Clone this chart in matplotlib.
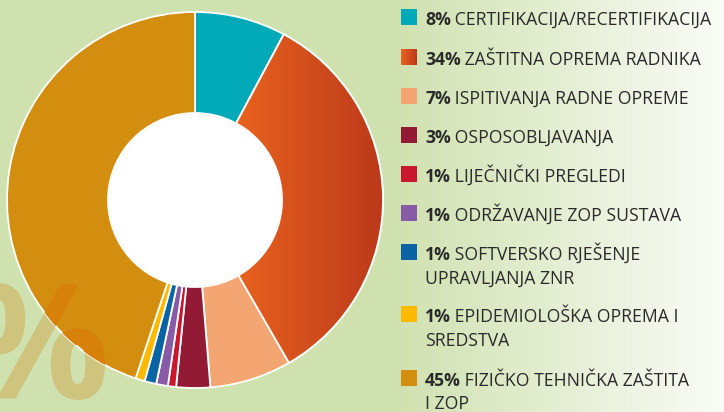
import numpy as np
import matplotlib
matplotlib.use("Agg")
import matplotlib.pyplot as plt
from matplotlib.patches import Wedge, Circle, Rectangle, PathPatch
from matplotlib.textpath import TextPath
from matplotlib.font_manager import FontProperties
from matplotlib.transforms import Affine2D
import matplotlib.colors as mcolors

# ---- data ----
percent_labels = ["8%", "34%", "7%", "3%", "1%", "1%", "1%", "1%", "45%"]
categories = [
    "CERTIFIKACIJA/RECERTIFIKACIJA",
    "ZAŠTITNA OPREMA RADNIKA",
    "ISPITIVANJA RADNE OPREME",
    "OSPOSOBLJAVANJA",
    "LIJEČNIČKI PREGLEDI",
    "ODRŽAVANJE ZOP SUSTAVA",
    "SOFTVERSKO RJEŠENJE\nUPRAVLJANJA ZNR",
    "EPIDEMIOLOŠKA OPREMA I\nSREDSTVA",
    "FIZIČKO TEHNIČKA ZAŠTITA\nI ZOP",
]
# slice shares
shares = [7.8, 33.7, 7.0, 2.9, 0.7, 1.0, 1.0, 0.8, 44.7]
colors = ["#02A9B8", "#D24A1C", "#F4A672", "#931A35", "#C8172E",
          "#875BA6", "#0A64A3", "#FBB900", "#D38E10"]
grad_cols = ("#EA631F", "#BB391A")

W, H = 724, 412
fig = plt.figure(figsize=(W / 100, H / 100), dpi=100)

# background axes in pixel coordinates
bg = fig.add_axes([0, 0, 1, 1], zorder=0)
bg.set_xlim(0, W)
bg.set_ylim(H, 0)
bg.axis("off")
green = np.array(mcolors.to_rgb("#D0E1B0"))
white = np.array(mcolors.to_rgb("#FAFCF7"))
xs = np.arange(W)
t = np.clip((xs - 395) / (W - 395), 0, 1)
row = green[None, :] * (1 - t[:, None]) + white[None, :] * t[:, None]
img = np.repeat(row[None, :, :], 2, axis=0)
bg.imshow(img, extent=[0, W, H, 0], aspect="auto", zorder=0)

# % watermark as a path, placed in pixel coordinates
tp = TextPath((0, 0), "%", size=100, prop=FontProperties(family="Open Sans", weight="bold"))
ext = tp.get_extents()
pct_h = 117.0
s = pct_h / ext.height
x_right, y_bottom = 105.0, 400.0
pct_tr = (Affine2D().translate(-ext.x1, -ext.y0).scale(s, -s)
          .translate(x_right, y_bottom))
bg.add_patch(PathPatch(tp, transform=pct_tr + bg.transData,
                       facecolor="#CFC47E", edgecolor="none", zorder=1))

# pie axes
cx, cy, R = 195, 200, 188
lim = 1.01
size = 2 * lim * R
ax = fig.add_axes([(cx - size / 2) / W, (H - cy - size / 2) / H, size / W, size / H],
                  zorder=1)
ax.set_xlim(-lim, lim)
ax.set_ylim(-lim, lim)
ax.set_aspect("equal")
ax.axis("off")
ax.patch.set_alpha(0)

inner = 87 / 188
wedges, _ = ax.pie(shares, colors=colors, startangle=90, counterclock=False,
                   radius=1.0,
                   wedgeprops=dict(width=1 - inner, edgecolor="white", linewidth=1.3))
ax.add_patch(Circle((0, 0), inner - 0.004, facecolor="white", edgecolor="none", zorder=1))

# gradient on the orange wedge
ow = wedges[1]
gx = np.linspace(0, 1, 256)
c0 = np.array(mcolors.to_rgb(grad_cols[0]))
c1 = np.array(mcolors.to_rgb(grad_cols[1]))
grad = c0[None, :] * (1 - gx[:, None]) + c1[None, :] * gx[:, None]
gimg = ax.imshow(np.repeat(grad[None, :, :], 2, axis=0), extent=[0.2, 1.0, -1, 1],
                 aspect="auto", zorder=2)
gimg.set_clip_path(ow)
ax.add_patch(Wedge((0, 0), 1.0, ow.theta1, ow.theta2, width=1 - inner,
                   facecolor="none", edgecolor="white", linewidth=1.3, zorder=3))
ax.set_xlim(-lim, lim)
ax.set_ylim(-lim, lim)

# % watermark over pie (clipped to the disk)
clip = Circle((0, 0), 1.0, transform=ax.transData, facecolor="none", edgecolor="none")
ax.add_patch(clip)
over = PathPatch(tp, transform=pct_tr + bg.transData, facecolor="#D7810B",
                 edgecolor="none", zorder=4)
ax.add_patch(over)
over.set_clip_path(clip)

# legend overlay
lg = fig.add_axes([0, 0, 1, 1], zorder=2)
lg.set_xlim(0, W)
lg.set_ylim(H, 0)
lg.axis("off")
lg.patch.set_alpha(0)

fs = 12.7
tc = "#2A2A2A"
fam = "Open Sans"
baselines = [25, 64.7, 103.7, 142.7, 181.7, 220.7, 260, 322.3, 385.7]
line_gap = 23.4
sq_x, sq_s, txt_x = 401, 16, 425

fig.canvas.draw()
rend = fig.canvas.get_renderer()
for i, (p, cat) in enumerate(zip(percent_labels, categories)):
    y = baselines[i]
    if i == 1:
        sq = np.repeat(grad[None, :, :], 2, axis=0)
        lg.imshow(sq, extent=[sq_x, sq_x + sq_s, y, y - sq_s],
                  aspect="auto", zorder=3)
    else:
        lg.add_patch(Rectangle((sq_x, y - sq_s), sq_s, sq_s,
                               facecolor=colors[i], edgecolor="none"))
    bt = lg.text(txt_x, y, p, fontsize=fs, fontweight="bold", family=fam,
                 color=tc, ha="left", va="baseline")
    bb = bt.get_window_extent(renderer=rend)
    x_end = lg.transData.inverted().transform((bb.x1, bb.y0))[0]
    lines = cat.split("\n")
    lg.text(x_end - 1, y, " " + lines[0], fontsize=fs, family=fam, color=tc,
            ha="left", va="baseline")
    for k, ln in enumerate(lines[1:], start=1):
        lg.text(txt_x, y + k * line_gap, ln, fontsize=fs, family=fam, color=tc,
                ha="left", va="baseline")

lg.set_xlim(0, W)
lg.set_ylim(H, 0)
fig.savefig("out.png", dpi=100)
